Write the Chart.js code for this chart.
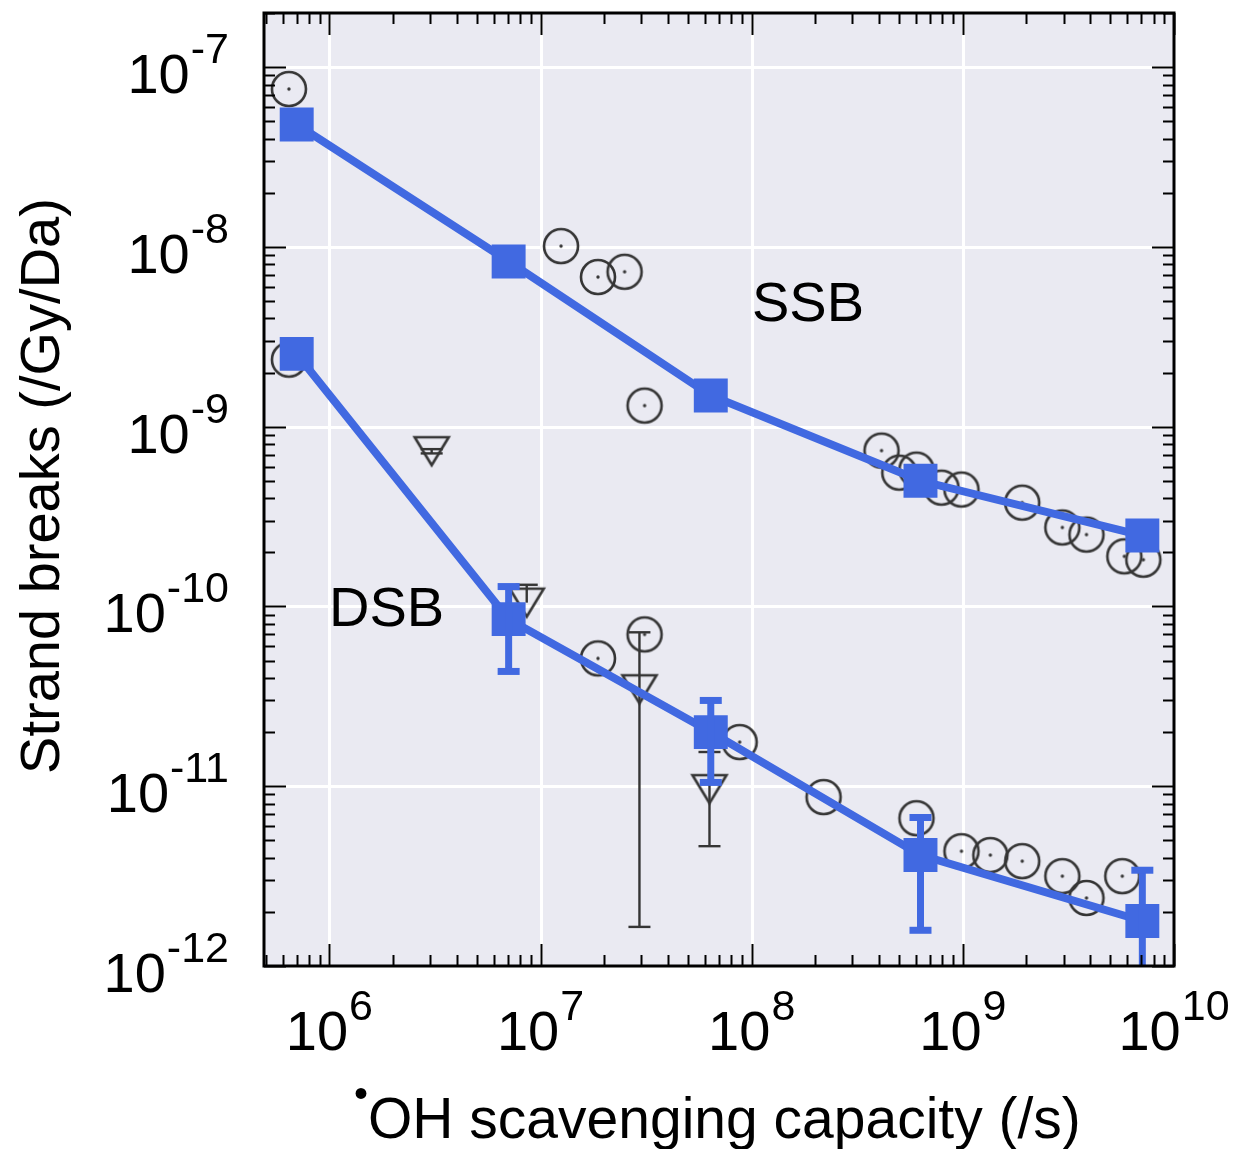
<!DOCTYPE html>
<html>
<head>
<meta charset="utf-8">
<script src="https://cdn.jsdelivr.net/npm/chart.js@4/dist/chart.umd.min.js"></script>
<style>
  html, body { margin: 0; padding: 0; background: #ffffff; }
  #c { display: block; }
</style>
</head>
<body>
<canvas id="c" width="1237" height="1149"></canvas>
<script>
// ---------------- DATA ----------------
const modelX = [7.0e5, 7.06e6, 6.4e7, 6.3e8, 7.08e9];
const ssbModelY = [4.8e-8, 8.3e-9, 1.49e-9, 5.0e-10, 2.48e-10];
const dsbModelY = [2.54e-9, 8.5e-11, 2.0e-11, 4.14e-12, 1.78e-12];
const dsbModelErrLow = [null, 4.35e-11, 1.05e-11, 1.58e-12, 8e-13];
const dsbModelErrHigh = [null, 1.29e-10, 3.0e-11, 6.7e-12, 3.41e-12];

const ssbExpX = [6.43e5, 1.25e7, 1.87e7, 2.5e7, 3.11e7, 4.12e8, 5.0e8, 6.03e8, 7.92e8, 9.85e8, 1.91e9, 2.96e9, 3.85e9, 5.82e9, 7.16e9];
const ssbExpY = [7.55e-8, 1.01e-8, 6.8e-9, 7.27e-9, 1.31e-9, 7.36e-10, 5.55e-10, 5.77e-10, 4.58e-10, 4.47e-10, 3.78e-10, 2.75e-10, 2.51e-10, 1.9e-10, 1.82e-10];

const dsbExpX = [6.43e5, 1.87e7, 3.11e7, 8.77e7, 2.19e8, 6.03e8, 9.85e8, 1.35e9, 1.91e9, 2.96e9, 3.85e9, 5.69e9];
const dsbExpY = [2.36e-9, 5.14e-11, 6.99e-11, 1.76e-11, 8.7e-12, 6.64e-12, 4.35e-12, 4.14e-12, 3.83e-12, 3.16e-12, 2.39e-12, 3.16e-12];

const triX = [3.05e6, 8.6e6, 2.94e7, 6.31e7];
const triY = [7.3e-10, 1.05e-10, 3.46e-11, 9.63e-12];
const triErrLow = [7.1e-10, null, 1.65e-12, 4.64e-12];
const triErrHigh = [7.5e-10, 1.32e-10, 7.18e-11, 1.55e-11];

const xDecades = [6, 7, 8, 9, 10];
const yDecades = [-7, -8, -9, -10, -11, -12];
const xTitle = "OH scavenging capacity (/s)";
const yTitle = "Strand breaks (/Gy/Da)";
const ssbLabel = "SSB";
const dsbLabel = "DSB";

// ---------------- STYLE ----------------
const BLUE = '#4169e1';
const GRAY = '#353535';
const BG = '#eaeaf2';
const FONT = '"Liberation Sans", Arial, Helvetica, sans-serif';

function pts(xs, ys) { return xs.map((x, i) => ({ x: x, y: ys[i] })); }

function circleImg() {
  const c = document.createElement('canvas');
  c.width = 40; c.height = 40;
  const g = c.getContext('2d');
  g.strokeStyle = GRAY; g.lineWidth = 2.6;
  g.beginPath(); g.arc(20, 20, 17, 0, Math.PI * 2); g.stroke();
  g.fillStyle = GRAY;
  g.beginPath(); g.arc(20, 20, 1.7, 0, Math.PI * 2); g.fill();
  return c;
}
function triImg() {
  const c = document.createElement('canvas');
  c.width = 40; c.height = 34;
  const g = c.getContext('2d');
  g.strokeStyle = GRAY; g.lineWidth = 2.6; g.lineJoin = 'miter';
  g.beginPath(); g.moveTo(3, 3); g.lineTo(37, 3); g.lineTo(20, 31); g.closePath(); g.stroke();
  return c;
}
const CIRC = circleImg();
const TRI = triImg();

function errorBars(chart, xs, ys, lows, highs, color, lw, capW) {
  const ctx = chart.ctx, xs_ = chart.scales.x, ys_ = chart.scales.y, a = chart.chartArea;
  ctx.save();
  ctx.beginPath(); ctx.rect(a.left, a.top, a.right - a.left, a.bottom - a.top); ctx.clip();
  ctx.strokeStyle = color; ctx.lineWidth = lw; ctx.lineCap = 'butt';
  for (let i = 0; i < xs.length; i++) {
    if (lows[i] == null && highs[i] == null) continue;
    const px = xs_.getPixelForValue(xs[i]);
    const pc = ys_.getPixelForValue(ys[i]);
    const lo = lows[i] != null ? ys_.getPixelForValue(lows[i]) : pc;
    const hi = highs[i] != null ? ys_.getPixelForValue(highs[i]) : pc;
    ctx.beginPath(); ctx.moveTo(px, hi); ctx.lineTo(px, lo); ctx.stroke();
    if (highs[i] != null) { ctx.beginPath(); ctx.moveTo(px - capW / 2, hi); ctx.lineTo(px + capW / 2, hi); ctx.stroke(); }
    if (lows[i] != null) { ctx.beginPath(); ctx.moveTo(px - capW / 2, lo); ctx.lineTo(px + capW / 2, lo); ctx.stroke(); }
  }
  ctx.restore();
}

function drawPow(ctx, exp, x, baseY, align) {
  const mainF = '56px ' + FONT, supF = '43px ' + FONT;
  ctx.font = mainF; const wb = ctx.measureText('10').width;
  ctx.font = supF; const ws = ctx.measureText(exp).width;
  const gap = 1;
  const w = wb + gap + ws;
  let sx = align === 'center' ? x - w / 2 : x - w;
  ctx.textAlign = 'left'; ctx.textBaseline = 'alphabetic';
  ctx.font = mainF; ctx.fillText('10', sx, baseY);
  ctx.font = supF; ctx.fillText(exp, sx + wb + gap, baseY - 30);
}

const framePlugin = {
  id: 'frame',
  beforeDatasetsDraw(chart) {
    const ctx = chart.ctx, a = chart.chartArea, sx = chart.scales.x, sy = chart.scales.y;
    ctx.save();
    ctx.fillStyle = BG;
    ctx.fillRect(a.left, a.top, a.right - a.left, a.bottom - a.top);
    ctx.strokeStyle = '#ffffff'; ctx.lineWidth = 3;
    xDecades.forEach(d => {
      const v = Math.pow(10, d);
      if (v <= sx.min || v >= sx.max) return;
      const p = Math.round(sx.getPixelForValue(v)) + 0.5;
      ctx.beginPath(); ctx.moveTo(p, a.top); ctx.lineTo(p, a.bottom); ctx.stroke();
    });
    yDecades.forEach(d => {
      const v = Math.pow(10, d);
      if (v <= sy.min || v >= sy.max) return;
      const p = Math.round(sy.getPixelForValue(v)) + 0.5;
      ctx.beginPath(); ctx.moveTo(a.left, p); ctx.lineTo(a.right, p); ctx.stroke();
    });
    ctx.restore();
    errorBars(chart, triX, triY, triErrLow, triErrHigh, GRAY, 2.4, 22);
  },
  afterDatasetsDraw(chart) {
    errorBars(chart, modelX, dsbModelY, dsbModelErrLow, dsbModelErrHigh, BLUE, 7, 22);
  },
  afterDraw(chart) {
    const ctx = chart.ctx, a = chart.chartArea, sx = chart.scales.x, sy = chart.scales.y;
    ctx.save();
    ctx.strokeStyle = '#000000';
    ctx.lineWidth = 2;
    const MAJ = 22, MIN = 11;
    for (let d = 5; d <= 10; d++) {
      for (let m = 1; m <= 9; m++) {
        const v = m * Math.pow(10, d);
        if (v < sx.min || v > sx.max) continue;
        const p = Math.round(sx.getPixelForValue(v)) + 0.5;
        const L = m === 1 ? MAJ : MIN;
        ctx.beginPath(); ctx.moveTo(p, a.bottom); ctx.lineTo(p, a.bottom - L); ctx.stroke();
        ctx.beginPath(); ctx.moveTo(p, a.top); ctx.lineTo(p, a.top + L); ctx.stroke();
      }
    }
    for (let d = -13; d <= -7; d++) {
      for (let m = 1; m <= 9; m++) {
        const v = m * Math.pow(10, d);
        if (v < sy.min || v > sy.max) continue;
        const p = Math.round(sy.getPixelForValue(v)) + 0.5;
        const L = m === 1 ? MAJ : MIN;
        ctx.beginPath(); ctx.moveTo(a.left, p); ctx.lineTo(a.left + L, p); ctx.stroke();
        ctx.beginPath(); ctx.moveTo(a.right, p); ctx.lineTo(a.right - L, p); ctx.stroke();
      }
    }
    ctx.lineWidth = 3;
    ctx.strokeRect(a.left, a.top, a.right - a.left, a.bottom - a.top);
    ctx.fillStyle = '#000000';
    xDecades.forEach(d => {
      const p = sx.getPixelForValue(Math.pow(10, d));
      drawPow(ctx, String(d), p, 1050, 'center');
    });
    yDecades.forEach(d => {
      const p = sy.getPixelForValue(Math.pow(10, d));
      drawPow(ctx, '-' + String(-d), 229, p + 26, 'right');
    });
    ctx.font = '57px ' + FONT;
    ctx.textAlign = 'left'; ctx.textBaseline = 'alphabetic';
    ctx.fillText(xTitle, 368, 1138);
    ctx.font = '40px ' + FONT;
    ctx.fillText('\u2022', 354, 1107);
    ctx.save();
    ctx.translate(59, 486);
    ctx.rotate(-Math.PI / 2);
    ctx.font = '56px ' + FONT;
    ctx.textAlign = 'center';
    ctx.fillText(yTitle, 0, 0);
    ctx.restore();
    ctx.font = '56px ' + FONT;
    ctx.textAlign = 'left';
    ctx.fillText(ssbLabel, 752, 321);
    ctx.fillText(dsbLabel, 329, 626);
    ctx.restore();
  }
};

new Chart(document.getElementById('c'), {
  type: 'scatter',
  data: {
    datasets: [
      {
        label: 'SSB model', order: 0, showLine: true,
        data: pts(modelX, ssbModelY),
        borderColor: BLUE, borderWidth: 8,
        pointStyle: 'rect', pointRadius: 24, pointBorderWidth: 0,
        pointBackgroundColor: BLUE, pointBorderColor: BLUE
      },
      {
        label: 'DSB model', order: 0, showLine: true,
        data: pts(modelX, dsbModelY),
        borderColor: BLUE, borderWidth: 8,
        pointStyle: 'rect', pointRadius: 24, pointBorderWidth: 0,
        pointBackgroundColor: BLUE, pointBorderColor: BLUE
      },
      {
        label: 'SSB exp', order: 1,
        data: pts(ssbExpX, ssbExpY),
        pointStyle: CIRC, pointRadius: 17
      },
      {
        label: 'DSB exp', order: 1,
        data: pts(dsbExpX, dsbExpY),
        pointStyle: CIRC, pointRadius: 17
      },
      {
        label: 'DSB exp 2', order: 1,
        data: pts(triX, triY),
        pointStyle: TRI, pointRadius: 17
      }
    ]
  },
  options: {
    responsive: false,
    animation: false,
    devicePixelRatio: 1,
    layout: { autoPadding: false, padding: { left: 264, right: 63, top: 13, bottom: 183 } },
    plugins: { legend: { display: false }, tooltip: { enabled: false } },
    scales: {
      x: { type: 'logarithmic', min: 4.9e5, max: 1e10, display: false },
      y: { type: 'logarithmic', min: 1e-12, max: 2e-7, display: false }
    }
  },
  plugins: [framePlugin]
});
</script>
</body>
</html>
